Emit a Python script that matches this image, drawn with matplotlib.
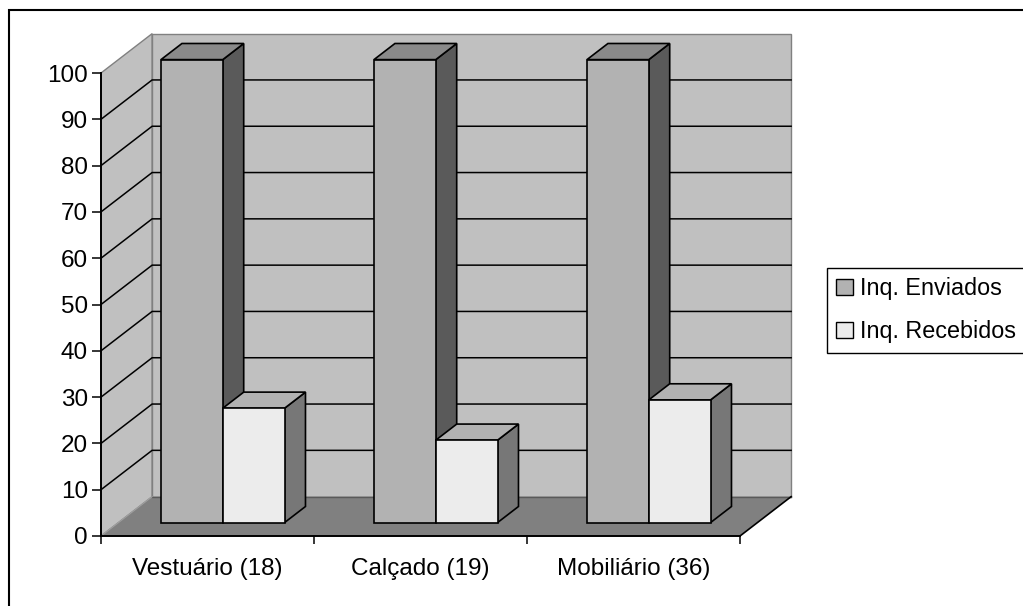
import matplotlib
matplotlib.use('Agg')
import matplotlib.pyplot as plt
from matplotlib.patches import Polygon, Rectangle, Patch

# ---- data ----
categories = ['Vestuário (18)', 'Calçado (19)', 'Mobiliário (36)']
series_names = ['Inq. Enviados', 'Inq. Recebidos']
enviados = [100, 100, 100]
recebidos = [24.7, 17.8, 26.5]
y_ticks = list(range(0, 101, 10))

# ---- style ----
FRONT = ['#b2b2b2', '#ececec']
TOP = ['#8a8a8a', '#b2b2b2']
SIDE = ['#5a5a5a', '#777777']
WALL = '#c0c0c0'
FLOOR = '#808080'
EDGE_GREY = '#808080'

DX = 0.24        # oblique depth of the plot box (category units)
DY = 8.5         # oblique depth of the plot box (value units)
BAR_FRONT, BAR_BACK = 0.34, 0.75   # bar depth span as fraction of the box depth
BAR_W = 0.29
BAR_START = 0.2
FS = 17.5
LEG_FS = 16.8

plt.rcParams['font.family'] = ['Liberation Sans', 'DejaVu Sans']

W, H = 1023, 606
fig = plt.figure(figsize=(W / 100, H / 100), dpi=100)
fig.patch.set_facecolor('white')
ax = fig.add_axes([101 / W, 70 / H, 639 / W, 463 / H])
n = len(categories)
ax.set_xlim(0, n)
ax.set_ylim(0, 100)
ax.patch.set_visible(False)

# outer chart frame
fig.patches.append(Rectangle((9 / W, -0.1), 1.2, 1 - 10 / H + 0.1,
                             transform=fig.transFigure, fill=False,
                             ec='black', lw=1.5))

top_v = y_ticks[-1]
# walls and floor
ax.add_patch(Polygon([(0, 0), (DX, DY), (DX, top_v + DY), (0, top_v)],
                     fc=WALL, ec=EDGE_GREY, lw=1.0, zorder=1, clip_on=False))
ax.add_patch(Polygon([(DX, DY), (n + DX, DY), (n + DX, top_v + DY), (DX, top_v + DY)],
                     fc=WALL, ec=EDGE_GREY, lw=1.0, zorder=1, clip_on=False))
ax.add_patch(Polygon([(0, 0), (n, 0), (n + DX, DY), (DX, DY)],
                     fc=FLOOR, ec='none', zorder=1.5, clip_on=False))
ax.plot([DX, n + DX], [DY, DY], color='#5a5a5a', lw=1.0, zorder=1.6, clip_on=False)
ax.plot([0, DX], [0, DY], color='#a0a0a0', lw=0.8, zorder=1.6, clip_on=False)
ax.plot([n, n + DX], [0, DY], color='black', lw=1.2, zorder=1.6, clip_on=False)

# gridlines on side and back walls
for v in y_ticks[1:-1]:
    ax.plot([0, DX, n + DX], [v, v + DY, v + DY], color='black', lw=1.1,
            zorder=2, clip_on=False, solid_joinstyle='miter')

# bars
z = 3
for i in range(n):
    for s, vals in enumerate([enviados, recebidos]):
        v = vals[i]
        x0 = i + BAR_START + s * BAR_W
        fx, fy = x0 + BAR_FRONT * DX, BAR_FRONT * DY
        bx, by = x0 + BAR_BACK * DX, BAR_BACK * DY
        side = Polygon([(fx + BAR_W, fy), (bx + BAR_W, by), (bx + BAR_W, by + v),
                        (fx + BAR_W, fy + v)], fc=SIDE[s], ec='black', lw=1.2,
                       zorder=z, clip_on=False, joinstyle='miter')
        top = Polygon([(fx, fy + v), (fx + BAR_W, fy + v), (bx + BAR_W, by + v),
                       (bx, by + v)], fc=TOP[s], ec='black', lw=1.2,
                      zorder=z, clip_on=False, joinstyle='miter')
        ax.add_patch(side)
        ax.add_patch(top)
        ax.bar([fx], [v], width=BAR_W, bottom=fy, align='edge',
               color=FRONT[s], edgecolor='black', linewidth=1.2,
               zorder=z + 0.5, clip_on=False)
        z += 1

# axes
for sp in ('top', 'right'):
    ax.spines[sp].set_visible(False)
for sp in ('left', 'bottom'):
    ax.spines[sp].set_color('black')
    ax.spines[sp].set_linewidth(1.4)
    ax.spines[sp].set_zorder(50)

ax.set_yticks(y_ticks)
ax.set_yticklabels([str(t) for t in y_ticks])
ax.tick_params(axis='y', direction='out', length=6.5, width=1.1, pad=3,
               labelsize=FS, colors='black')
ax.set_xticks(range(n + 1))
ax.set_xticklabels([''] * (n + 1))
ax.set_xticks([i + 0.5 for i in range(n)], minor=True)
ax.set_xticklabels(categories, minor=True)
ax.tick_params(axis='x', which='major', direction='out', length=6, width=1.1)
ax.tick_params(axis='x', which='minor', length=0, pad=16, labelsize=FS)

handles = [Patch(facecolor=FRONT[0], edgecolor='black', linewidth=1.0),
           Patch(facecolor=FRONT[1], edgecolor='black', linewidth=1.0)]
leg = ax.legend(handles, series_names, loc='upper left',
                bbox_to_anchor=(827 / W, 1 - 268 / H), bbox_transform=fig.transFigure,
                fancybox=False, edgecolor='black', framealpha=1, fontsize=LEG_FS,
                handlelength=0.72, handleheight=0.72, handletextpad=0.3,
                borderpad=0.4, labelspacing=0.85, borderaxespad=0)
leg.get_frame().set_linewidth(1.0)

fig.savefig('out.png', dpi=100, facecolor='white')
